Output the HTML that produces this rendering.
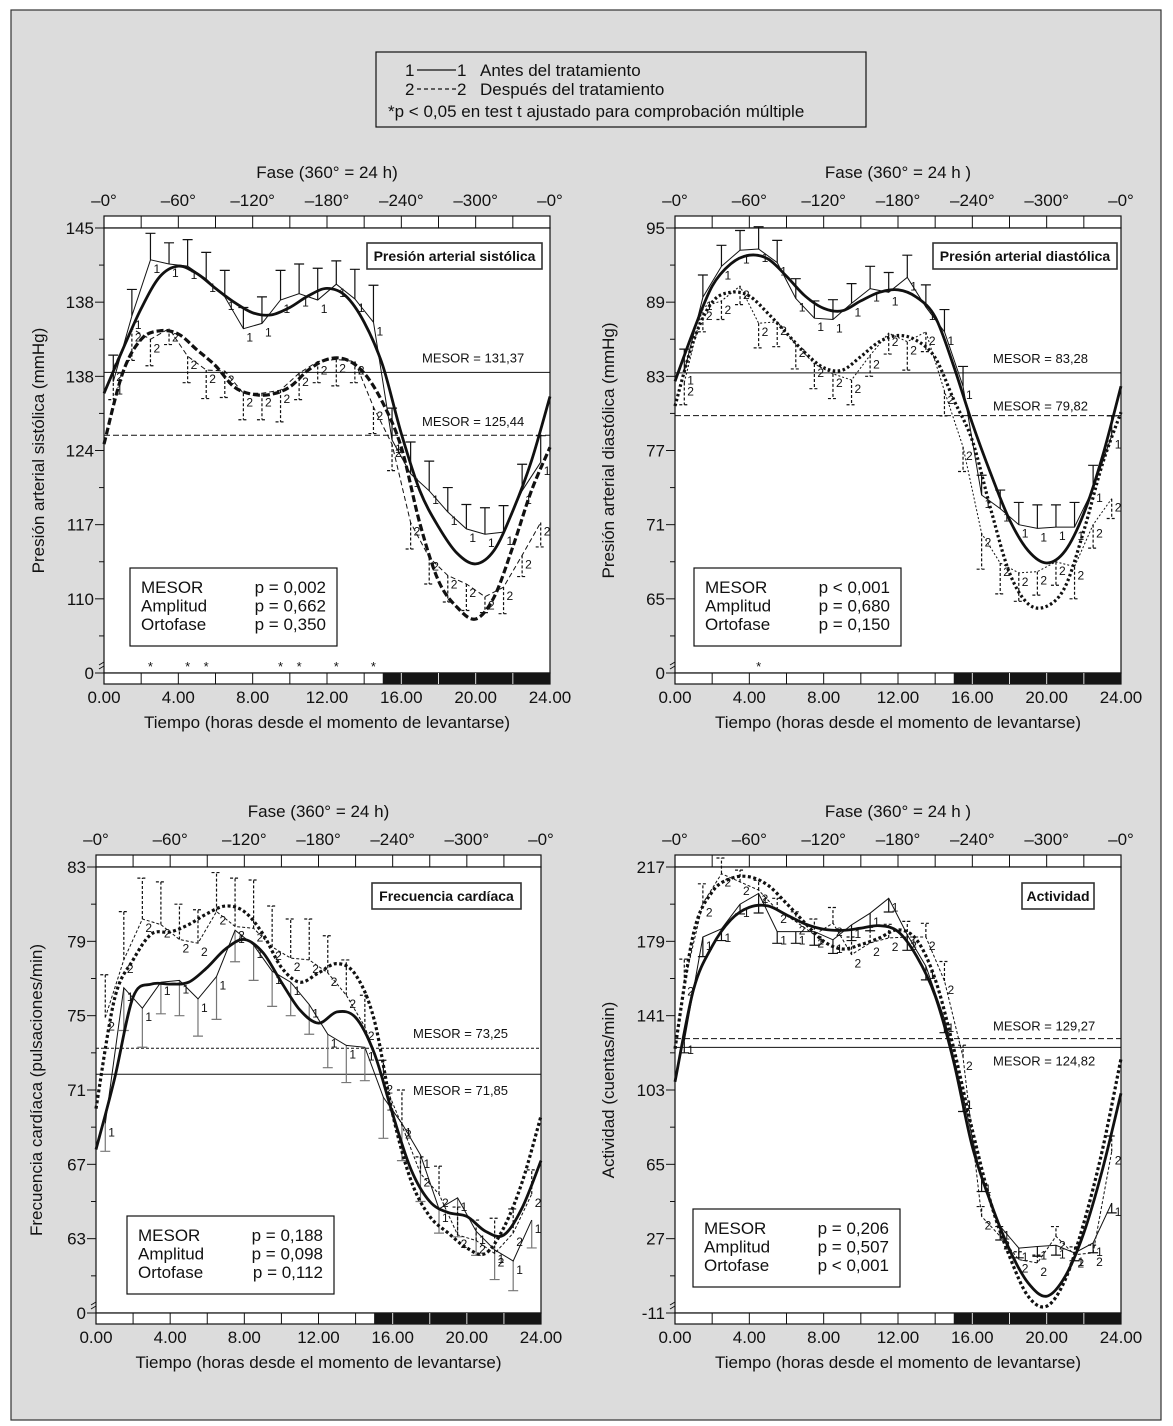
<!DOCTYPE html>
<html><head><meta charset="utf-8"><style>
html,body{margin:0;padding:0;background:#fff}
svg{display:block}
text{font-family:"Liberation Sans",sans-serif;fill:#111}
.tk{font-size:17px}
.sm{font-size:13px}
.nm{font-size:12px}
.tb{font-family:"Liberation Sans Narrow","Liberation Sans",sans-serif;font-weight:bold;font-size:14px}
.st{font-size:17px}
</style></head><body>
<svg id="fig" width="1173" height="1426" viewBox="0 0 1173 1426" xmlns="http://www.w3.org/2000/svg">
<rect x="11" y="10" width="1150" height="1410" fill="#dcdcdc" stroke="#333" stroke-width="1.2"/>
<g>
<rect x="376" y="52" width="490" height="75" fill="#dcdcdc" stroke="#111" stroke-width="1.2"/>
<text class="tk" x="405" y="76">1</text>
<line x1="417" y1="70" x2="456" y2="70" stroke="#111" stroke-width="1.2"/>
<text class="tk" x="457" y="76">1</text>
<text class="tk" x="480" y="76">Antes del tratamiento</text>
<text class="tk" x="405" y="95">2</text>
<line x1="417" y1="89" x2="456" y2="89" stroke="#111" stroke-width="1.2" stroke-dasharray="4,3"/>
<text class="tk" x="457" y="95">2</text>
<text class="tk" x="480" y="95">Después del tratamiento</text>
<text class="tk" x="388" y="117">*p &lt; 0,05 en test t ajustado para comprobación múltiple</text>
</g>
</svg>
<script>
const pointHours = [0.5,1.5,2.5,3.5,4.5,5.5,6.5,7.5,8.5,9.5,10.5,11.5,12.5,13.5,14.5,15.5,16.5,17.5,18.5,19.5,20.5,21.5,22.5,23.5];
const fitHours = [0,1,2,3,4,5,6,7,8,9,10,11,12,13,14,15,16,17,18,19,20,21,22,23,24];
const xTickLabels = ["0.00","4.00","8.00","12.00","16.00","20.00","24.00"];
const phaseLabels = ["–0°","–60°","–120°","–180°","–240°","–300°","–0°"];

// Panel 1: systolic
const p1YTicks = ["145","138","138","124","117","110","0"];
const p1S1 = [130.5,136.7,142,141.6,141.4,140.2,138.5,135.5,136,138.2,138.8,138.2,139.7,138.3,136.1,125,121.8,120.2,118.2,116.6,116.1,116.3,120.2,122.9];
const p1S1Err = [2.5,2.5,2.5,2,2.5,2.5,2.5,2,2.5,2.8,2.8,3,2.2,2.8,3.5,3,3,2.8,2.3,2.3,2.5,2.5,2.5,2.5];
const p1S2 = [131.8,135.5,134.5,135.5,132.9,131.6,131.5,129.4,129.4,129.7,131.3,132.4,132.6,132.4,128.1,124.6,117.2,113.9,112.2,111.4,110.2,111.1,114.1,117.2];
const p1S2Err = [3,3,2.5,1.5,2.5,2.7,2.5,2.5,2.5,3,2.5,2,2.5,2,2.5,2.5,2.5,2.5,2.5,2.5,1.5,2.5,2,2.3];
const p1Fit1 = [129.4,133.5,137.4,140.4,141.4,140.7,139.3,138,137,136.8,137.5,138.6,139.3,138.6,136.1,132,125.6,120.2,116.8,114.3,113.3,114.6,118.3,123,129.1];
const p1Fit2 = [124.6,131.3,134.5,135.3,135,133.5,132,130,129.3,129.3,130,131.6,132.6,132.6,131.3,128.5,124.3,117.1,111.7,109.2,108.1,110.2,114.9,120.2,124.3];
const p1Mesor = [131.37,125.44];
const p1MesorText = ["MESOR = 131,37","MESOR = 125,44"];
const p1Stars = [2.5,4.5,5.5,9.5,10.5,12.5,14.5];
const p1Stats = ["p = 0,002","p = 0,662","p = 0,350"];

// Panel 2: diastolic
const p2YTicks = ["95","89","83","77","71","65","0"];
const p2S1 = [83.4,89.4,91.9,93.2,93.3,92.2,89.3,87.7,87.6,88.9,90.1,89.8,91,88.6,86.6,82.2,73.4,72.3,71,70.7,70.8,70.8,73.9,78.2];
const p2S1Err = [1.8,1.8,1.7,1.6,1.8,1.8,1.6,1.4,1.6,1.6,1.8,1.6,1.8,1.8,1.8,1.6,1.6,1.5,1.8,1.9,1.8,2,1.9,1.6];
const p2S2 = [82.5,88.6,89.1,90.3,87.3,87.4,85.6,84,83.2,82.7,84.7,86.5,85.8,86.6,81.8,77.3,70.3,67.9,67.1,67.2,68,67.6,71,73.1];
const p2S2Err = [1.8,2,1.5,1.5,2,2,2,2,2,2,1.7,1.7,2.3,1.6,2,2,2.9,2.5,2.3,1.9,1.9,2.6,1.9,1.6];
const p2Fit1 = [82.6,86.7,90.3,92.1,92.8,92.5,91.1,89.5,88.5,88.3,89.1,89.8,90,89.4,87.8,83.8,79.2,75.1,71.4,68.9,67.9,68.9,71.9,76.5,82.2];
const p2Fit2 = [80.6,85.9,89,89.8,89.5,88.1,86.5,84.9,83.7,83.5,84.6,85.8,86.3,85.9,84.5,81.1,77.8,72.2,67.1,64.6,64.4,66,70.5,75.9,80.1];
const p2Mesor = [83.28,79.82];
const p2MesorText = ["MESOR = 83,28","MESOR = 79,82"];
const p2Stars = [4.5];
const p2Stats = ["p < 0,001","p = 0,680","p = 0,150"];

// Panel 3: heart rate
const p3YTicks = ["83","79","75","71","67","63","0"];
const p3S1 = [69.2,76.5,75.4,76.8,76.9,75.9,77.1,79.6,78.8,77.4,76.8,75.6,74,73.4,73.3,70.6,69.2,67.5,64.6,65.2,63.4,62.4,61.8,64];
const p3S1Err = [1.5,2.3,2.1,1.7,1.9,2,2.3,1.7,1.9,1.9,1.8,1.6,1.8,2,1.8,2.2,2,2.5,1.3,2.1,1.3,1.6,1.6,1.5];
const p3S2 = [74.9,78,80.2,79.9,79.1,78.9,80.6,79.8,79.7,78.7,78.1,78,77.3,76.1,74.4,71.5,69.1,66.5,65.4,63.2,62.9,62.2,63.3,65.4];
const p3S2Err = [2.3,2.6,2.2,2.3,1.9,1.8,2.1,2.6,2.6,2.2,2.1,2.2,2,1.9,1.7,1.1,1.9,0.9,1.5,1.5,1.1,1.9,1.3,1.3];
const p3Fit1 = [67.8,71.6,76,76.7,76.7,76.8,77.6,78.6,79.1,78.4,76.8,75.3,74.6,75.2,74.9,73,69.7,66.7,65,64.4,64.2,63.4,63.2,64.7,67.2];
const p3Fit2 = [70,75.9,78,79.4,79.5,79.9,80.5,80.9,80.6,79.4,77.6,76.8,77.3,77.8,77.2,74.8,69.7,66.1,64.2,63.3,62.5,62.2,63.6,66.1,69.6];
const p3Mesor = [73.25,71.85];
const p3MesorText = ["MESOR = 73,25","MESOR = 71,85"];
const p3Stars = [];
const p3Stats = ["p = 0,188","p = 0,098","p = 0,112"];

// Panel 4: activity
const p4YTicks = ["217","179","141","103","65","27","-11"];
const p4S1 = [128,181.2,185.4,198,203.5,184,184,184,179.8,187.4,193.4,201,182.4,166.3,139.3,100,57.1,33.3,22.2,23,23.6,19.7,24.8,45.2];
const p4S1Err = [6,10,6,5,10,6,6,7,7,8,9,7,8,7,7,8,6,7,5,5,5,4,5,5];
const p4S2 = [157.9,198.4,213.6,209.4,205.2,195,189.1,182.4,188.3,172.2,178.2,180.7,181.2,181.2,158.7,119.9,38.4,28.2,16.3,14.6,28.2,18.8,19.7,71.5];
const p4S2Err = [12,10,8,6,5,6,5,8,8,9,8,7,8,7,10,6,5,5,4,4,5,4,4,8];
const p4Fit1 = [107.2,154.5,176.5,190,196.4,197.1,192.5,187.9,185.2,184.6,185.7,187,184,171.4,151.1,117.3,74.1,45.2,21.4,4.4,-2.4,7.8,29.9,62.2,101.3];
const p4Fit2 = [124.1,183.2,204.3,211.1,212,207.7,198.4,188.3,179,175.1,177.3,180.7,184.9,179.8,159.6,124.1,82.6,45.2,18,-2.4,-7.5,6.1,35,72.4,119];
const p4Mesor = [129.27,124.82];
const p4MesorText = ["MESOR = 129,27","MESOR = 124,82"];
const p4Stars = [];
const p4Stats = ["p = 0,206","p = 0,507","p < 0,001"];

const NS = "http://www.w3.org/2000/svg";
const svg = document.getElementById('fig');
function mk(tag, attrs, parent){
  const e = document.createElementNS(NS, tag);
  for (const k in attrs) e.setAttribute(k, attrs[k]);
  (parent||svg).appendChild(e);
  return e;
}
function smooth(pts){
  let d = "M" + pts[0][0].toFixed(1) + "," + pts[0][1].toFixed(1);
  for (let i=0;i<pts.length-1;i++){
    const p0 = pts[i-1]||pts[i], p1 = pts[i], p2 = pts[i+1], p3 = pts[i+2]||pts[i+1];
    const c1x = p1[0]+(p2[0]-p0[0])/6, c1y = p1[1]+(p2[1]-p0[1])/6;
    const c2x = p2[0]-(p3[0]-p1[0])/6, c2y = p2[1]-(p3[1]-p1[1])/6;
    d += " C"+c1x.toFixed(1)+","+c1y.toFixed(1)+" "+c2x.toFixed(1)+","+c2y.toFixed(1)+" "+p2[0].toFixed(1)+","+p2[1].toFixed(1);
  }
  return d;
}

function panel(c){
  const g = mk('g', {});
  
  
  const W = c.right - c.left;
  const X = h => c.left + h * W / 24;
  const span = c.bottom - c.top;
  const Y = v => c.top + (c.topVal - v) * (span/6) / c.step;

  let t = mk('text', {x:(c.left+c.right)/2, y:c.top-50, 'text-anchor':'middle', class:'tk'}, g);
  t.textContent = c.faseText;
  
  
  phaseLabels.forEach((s,i)=>{
    const e = mk('text', {x:X(i*4), y:c.top-22, 'text-anchor':'middle', class:'tk'}, g);
    e.textContent = s;
    
    
  });
  mk('rect', {x:c.left, y:c.top-12, width:W, height:12, fill:'#fff', stroke:'#111', 'stroke-width':1.2}, g);
  for (let h=2; h<24; h+=2) mk('line', {x1:X(h), y1:c.top-12, x2:X(h), y2:c.top, stroke:'#111', 'stroke-width':1}, g);
  const pa = mk('rect', {x:c.left, y:c.top, width:W, height:span, fill:'#fff', stroke:'#111', 'stroke-width':1.2}, g);
  
  
  mk('rect', {x:c.left, y:c.bottom, width:W, height:11, fill:'#fff', stroke:'#111', 'stroke-width':1.2}, g);
  const night = mk('rect', {x:X(15), y:c.bottom, width:X(24)-X(15), height:11, fill:'#151515'}, g);
  
  
  for (let h=2; h<24; h+=2) mk('line', {x1:X(h), y1:c.bottom, x2:X(h), y2:c.bottom+11, stroke: h>15?'#ddd':'#111', 'stroke-width':1}, g);
  xTickLabels.forEach((s,i)=>{
    const e = mk('text', {x:X(i*4), y:c.bottom+30, 'text-anchor':'middle', class:'tk'}, g);
    e.textContent = s;
    
    
  });
  t = mk('text', {x:(c.left+c.right)/2, y:c.bottom+55, 'text-anchor':'middle', class:'tk'}, g);
  t.textContent = "Tiempo (horas desde el momento de levantarse)";
  
  
  c.yTicks.forEach((s,i)=>{
    const y = c.top + i*span/6;
    mk('line', {x1:c.left-9, y1:y, x2:c.left, y2:y, stroke:'#111', 'stroke-width':1}, g);
    if (i<6) mk('line', {x1:c.left-5, y1:y+span/12, x2:c.left, y2:y+span/12, stroke:'#111', 'stroke-width':1}, g);
    const e = mk('text', {x:c.left-10, y:y+6, 'text-anchor':'end', class:'tk'}, g);
    e.textContent = s;
    
    
  });
  mk('path', {d:`M${c.left-5},${c.bottom-8} l5,-3 M${c.left-5},${c.bottom-4} l5,-3`, stroke:'#111', fill:'none'}, g);
  const yt = mk('text', {transform:`translate(${c.ytx},${(c.top+c.bottom)/2}) rotate(-90)`, 'text-anchor':'middle', class:'tk'}, g);
  yt.textContent = c.yTitle;
  
  

  c.mesor.forEach((m,i)=>{
    const ln = mk('line', {x1:c.left, y1:Y(m), x2:c.right, y2:Y(m), stroke:'#111', 'stroke-width':1, 'stroke-dasharray': c.mesorDash[i]}, g);
    
    
    const e = mk('text', {x:c.right-128, y:Y(m)+c.mesorLabelDy[i], class:'sm'}, g);
    e.textContent = c.mesorText[i];
    
    
  });

  function bars(vals, errs, dir, dash, color){
    vals.forEach((v,i)=>{
      const x = X(pointHours[i]), y1 = Y(v), y2 = Y(v + dir*errs[i]);
      const b = mk('path', {d:`M${x},${y1} L${x},${y2} M${x-5},${y2} L${x+5},${y2}`, stroke:color, 'stroke-width':1.2, fill:'none', 'stroke-dasharray':dash}, g);
      
      
    });
  }
  bars(c.s1, c.s1Err, c.s1Dir, 'none', c.s1BarColor);
  bars(c.s2, c.s2Err, c.s2Dir, '3,2', '#111');

  function series(vals, dash, label, nm){
    const pts = vals.map((v,i)=>[X(pointHours[i]), Y(v)]);
    const p = mk('polyline', {points: pts.map(p=>p[0].toFixed(1)+","+p[1].toFixed(1)).join(" "), fill:'none', stroke:'#111', 'stroke-width':1, 'stroke-dasharray':dash}, g);
    
    
    pts.forEach(pt=>{
      const e = mk('text', {x:pt[0]+3, y:pt[1]+13, class:'nm'}, g);
      e.textContent = label;
      
      
    });
  }
  series(c.s1, 'none', '1', 'series-before');
  series(c.s2, c.s2Dash, '2', 'series-after');

  const f1 = mk('path', {d: smooth(c.fit1.map((v,i)=>[X(fitHours[i]), Y(v)])), fill:'none', stroke:'#111', 'stroke-width':2.8}, g);
  
  
  const f2 = mk('path', {d: smooth(c.fit2.map((v,i)=>[X(fitHours[i]), Y(v)])), fill:'none', stroke:'#111', 'stroke-width':3.2, 'stroke-dasharray':c.fit2Dash}, g);
  
  

  c.stars.forEach(h=>{
    const e = mk('text', {x:X(h), y:c.bottom-2, 'text-anchor':'middle', class:'sm'}, g);
    e.textContent = "*";
    
    
  });

  const tg = mk('g', {}, g);
  
  
  mk('rect', {x:c.tb[0], y:c.tb[1], width:c.tb[2], height:26, fill:'#fff', stroke:'#333', 'stroke-width':1.6}, tg);
  const tt = mk('text', {x:c.tb[0]+c.tb[2]/2, y:c.tb[1]+18, 'text-anchor':'middle', class:'tb'}, tg);
  tt.textContent = c.title;

  const sg = mk('g', {}, g);
  
  
  mk('rect', {x:c.sb[0], y:c.sb[1], width:207, height:78, fill:'#fff', stroke:'#111', 'stroke-width':1.2}, sg);
  ["MESOR","Amplitud","Ortofase"].forEach((s,i)=>{
    const a = mk('text', {x:c.sb[0]+11, y:c.sb[1]+25+i*18.5, class:'st'}, sg);
    a.textContent = s;
    const b = mk('text', {x:c.sb[0]+196, y:c.sb[1]+25+i*18.5, 'text-anchor':'end', class:'st'}, sg);
    b.textContent = c.stats[i];
  });
}

panel({name:'systolic-panel', left:104, right:550, top:228, bottom:673, topVal:145, step:7, yTicks:p1YTicks,
  faseText:"Fase (360° = 24 h)", yTitle:"Presión arterial sistólica (mmHg)", ytx:44,
  s1:p1S1, s1Err:p1S1Err, s1Dir:1, s1BarColor:'#111', s2:p1S2, s2Err:p1S2Err, s2Dir:-1,
  fit1:p1Fit1, fit2:p1Fit2, s2Dash:'5,3', fit2Dash:'7,3',
  mesor:p1Mesor, mesorText:p1MesorText, mesorDash:['none','6,3'], mesorLabelDy:[-10,-9],
  stars:p1Stars, stats:p1Stats, title:"Presión arterial sistólica", tb:[367,243,175], sb:[130,568]});

panel({name:'diastolic-panel', left:675, right:1121, top:228, bottom:673, topVal:95, step:6, yTicks:p2YTicks,
  faseText:"Fase (360° = 24 h )", yTitle:"Presión arterial diastólica (mmHg)", ytx:614,
  s1:p2S1, s1Err:p2S1Err, s1Dir:1, s1BarColor:'#111', s2:p2S2, s2Err:p2S2Err, s2Dir:-1,
  fit1:p2Fit1, fit2:p2Fit2, s2Dash:'2,2', fit2Dash:'2.5,2.5',
  mesor:p2Mesor, mesorText:p2MesorText, mesorDash:['none','6,3'], mesorLabelDy:[-10,-5],
  stars:p2Stars, stats:p2Stats, title:"Presión arterial diastólica", tb:[933,243,184], sb:[694,568]});

panel({name:'heart-rate-panel', left:96, right:541, top:867, bottom:1313, topVal:83, step:4, yTicks:p3YTicks,
  faseText:"Fase (360° = 24 h)", yTitle:"Frecuencia cardíaca (pulsaciones/min)", ytx:42,
  s1:p3S1, s1Err:p3S1Err, s1Dir:-1, s1BarColor:'#777', s2:p3S2, s2Err:p3S2Err, s2Dir:1,
  fit1:p3Fit1, fit2:p3Fit2, s2Dash:'3,2', fit2Dash:'3,2.5',
  mesor:p3Mesor, mesorText:p3MesorText, mesorDash:['3,2','none'], mesorLabelDy:[-10,21],
  stars:p3Stars, stats:p3Stats, title:"Frecuencia cardíaca", tb:[372,883,149], sb:[127,1216]});

panel({name:'activity-panel', left:675, right:1121, top:867, bottom:1313, topVal:217, step:38, yTicks:p4YTicks,
  faseText:"Fase (360° = 24 h )", yTitle:"Actividad (cuentas/min)", ytx:614,
  s1:p4S1, s1Err:p4S1Err, s1Dir:-1, s1BarColor:'#111', s2:p4S2, s2Err:p4S2Err, s2Dir:1,
  fit1:p4Fit1, fit2:p4Fit2, s2Dash:'3,2', fit2Dash:'3,2.5',
  mesor:p4Mesor, mesorText:p4MesorText, mesorDash:['6,3','none'], mesorLabelDy:[-8,18],
  stars:p4Stars, stats:p4Stats, title:"Actividad", tb:[1022,883,72], sb:[693,1209]});
</script>
</body></html>
